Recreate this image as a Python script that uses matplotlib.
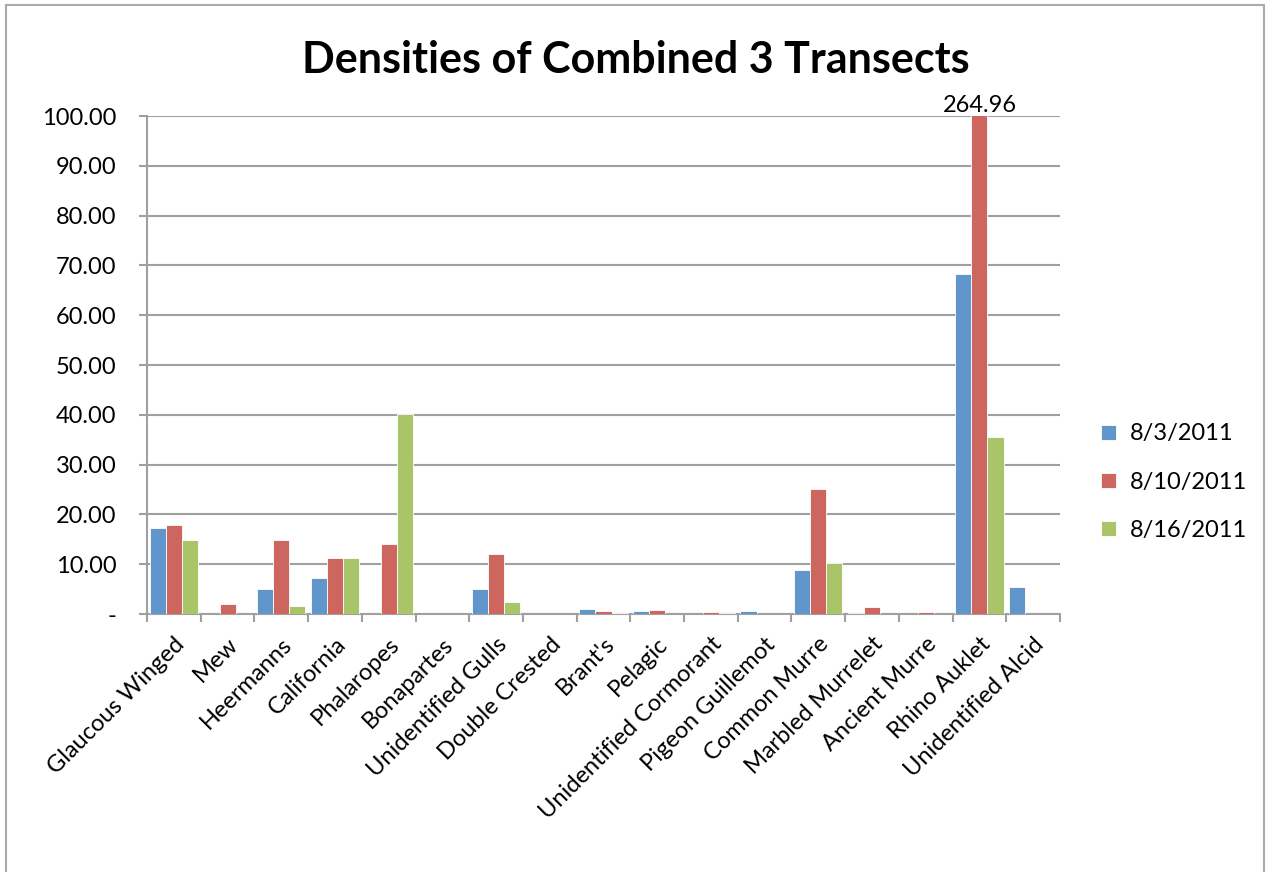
import matplotlib
matplotlib.use("Agg")
import matplotlib.pyplot as plt
import numpy as np
from matplotlib.patches import Rectangle

categories = ["Glaucous Winged", "Mew", "Heermanns", "California", "Phalaropes",
              "Bonapartes", "Unidentified Gulls", "Double Crested", "Brant's",
              "Pelagic", "Unidentified Cormorant", "Pigeon Guillemot", "Common Murre",
              "Marbled Murrelet", "Ancient Murre", "Rhino Auklet", "Unidentified Alcid"]
s_0803 = [17.3, 0.0, 5.0, 7.3, 0.0, 0.0, 5.1, 0.0, 1.1, 0.6, 0.0, 0.65, 8.9, 0.3, 0.0, 68.2, 5.4]
s_0810 = [17.9, 2.1, 14.8, 11.2, 14.0, 0.05, 12.0, 0.1, 0.7, 0.85, 0.45, 0.0, 25.1, 1.4, 0.45, 264.96, 0.0]
s_0816 = [14.8, 0.0, 1.6, 11.2, 40.2, 0.0, 2.4, 0.0, 0.3, 0.0, 0.25, 0.1, 10.2, 0.0, 0.0, 35.5, 0.0]
series_labels = ["8/3/2011", "8/10/2011", "8/16/2011"]
colors = ["#6096CB", "#CD665F", "#AAC46A"]
yticks = [0, 10, 20, 30, 40, 50, 60, 70, 80, 90, 100]
ytick_labels = ["-", "10.00", "20.00", "30.00", "40.00", "50.00", "60.00",
                "70.00", "80.00", "90.00", "100.00"]

plt.rcParams['font.family'] = ['Lato', 'DejaVu Sans']

W, H = 1266, 872
fig = plt.figure(figsize=(W / 100, H / 100), dpi=100)
ax = fig.add_axes([147 / W, 1 - 614 / H, (1060 - 147) / W, (614 - 116) / H])

# outer frame
fig.patches.append(Rectangle((6 / W, -0.01), (1264 - 6) / W, 1.01 - 5 / H,
                             transform=fig.transFigure, fill=False,
                             edgecolor="#AAAAAA", linewidth=1.5))

n = len(categories)
x = np.arange(n)
bw = 0.3
all_series = [s_0803, s_0810, s_0816]
for i, (vals, lab, c) in enumerate(zip(all_series, series_labels, colors)):
    ax.bar(x + (i - 1) * bw, vals, width=bw, color=c, label=lab,
           edgecolor="white", linewidth=0.6, zorder=3)

ax.set_xlim(-0.5, n - 0.5)
ax.set_ylim(0, 100)
ax.set_yticks(yticks)
ax.set_yticklabels(ytick_labels, fontsize=17)
ax.yaxis.grid(True, color="#A0A0A0", linewidth=1.5, zorder=0)
ax.set_axisbelow(True)

ax.set_xticks(x)
ax.set_xticklabels(categories, rotation=45, ha="right", rotation_mode="anchor", fontsize=17)
ax.tick_params(axis="x", length=0, pad=14)
# category separator ticks
ax.set_xticks(np.arange(-0.5, n, 1.0), minor=True)
ax.tick_params(axis="x", which="minor", length=6, width=1.5, color="#A0A0A0")
ax.tick_params(axis="y", length=6, width=1.5, color="#A0A0A0", pad=16)

for side in ["top", "right"]:
    ax.spines[side].set_visible(False)
for side in ["left", "bottom"]:
    ax.spines[side].set_color("#A0A0A0")
    ax.spines[side].set_linewidth(1.5)

# label for clipped bar
idx = categories.index("Rhino Auklet")
ax.text(x[idx], 100, f"{s_0810[idx]:.2f}", ha="center", va="bottom", fontsize=17)

fig.text(636 / W, 1 - 60 / H, "Densities of Combined 3 Transects", fontsize=31,
         fontweight="bold", ha="center", va="center")

leg = ax.legend(loc="center left", bbox_to_anchor=(1.022, 0.265), frameon=False,
                fontsize=17, handlelength=0.6, handleheight=0.6, labelspacing=1.15,
                handletextpad=0.6)

fig.savefig("out.png", dpi=100)
